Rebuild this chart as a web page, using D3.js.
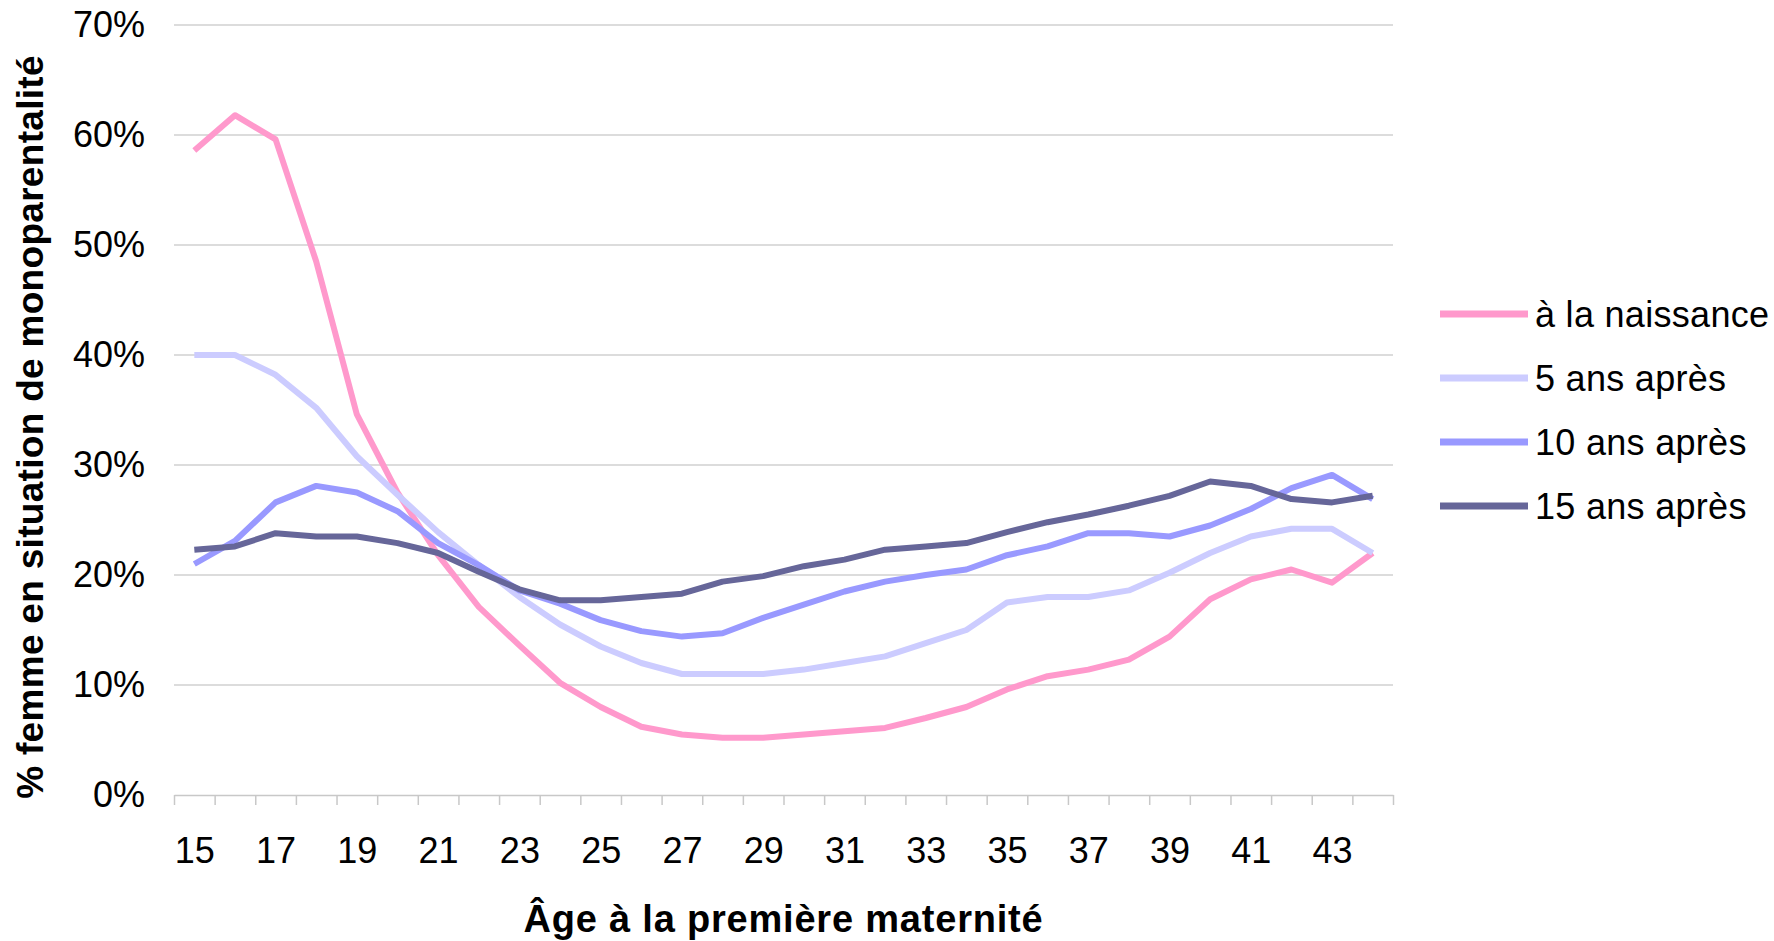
<!DOCTYPE html>
<html>
<head>
<meta charset="utf-8">
<script src="https://cdn.jsdelivr.net/npm/d3@7"></script>
<style>
    body { margin: 0; background: #fff; }
    svg { display: block; font-family: "Liberation Sans", Arial, sans-serif; }
    .grid line { stroke: #d0d0d0; stroke-width: 1.5; }
    .tickAxis line, .tickAxis path { stroke: #c8c8c8; stroke-width: 1.5; }
    .yearLabels text, .pctLabels text { font-size: 36px; fill: #000; }
    .serie { fill: none; stroke-width: 6; stroke-linejoin: round; }
    .legendText { font-size: 36px; fill: #000; }
    .axisTitle { font-size: 38px; font-weight: bold; fill: #000; }
</style>
</head>
<body>
<div id="chart"></div>
<script>

// Age at first maternity
var ages = d3.range(15, 45);

// % of women in single-parent situation, per age
var aLaNaissance = [58.6, 61.8, 59.6, 48.5, 34.6, 27.5, 21.8, 17.1, 13.6, 10.2, 8.0, 6.2, 5.5, 5.2, 5.2,
    5.5, 5.8, 6.1, 7.0, 8.0, 9.6, 10.8, 11.4, 12.3, 14.4, 17.8, 19.6, 20.5, 19.3, 22.0];
var cinqAns = [40.0, 40.0, 38.2, 35.2, 30.8, 27.3, 23.9, 20.9, 18.0, 15.5, 13.5, 12.0, 11.0, 11.0, 11.0,
    11.4, 12.0, 12.6, 13.8, 15.0, 17.5, 18.0, 18.0, 18.6, 20.2, 22.0, 23.5, 24.2, 24.2, 22.0];
var dixAns = [21.0, 23.1, 26.6, 28.1, 27.5, 25.8, 22.9, 20.9, 18.6, 17.4, 15.9, 14.9, 14.4, 14.7, 16.1,
    17.3, 18.5, 19.4, 20.0, 20.5, 21.8, 22.6, 23.8, 23.8, 23.5, 24.5, 26.0, 27.9, 29.1, 26.9];
var quinzeAns = [22.3, 22.6, 23.8, 23.5, 23.5, 22.9, 22.0, 20.3, 18.7, 17.7, 17.7, 18.0, 18.3, 19.4, 19.9,
    20.8, 21.4, 22.3, 22.6, 22.9, 23.9, 24.8, 25.5, 26.3, 27.2, 28.5, 28.1, 26.9, 26.6, 27.2];

var serieNames = ["à la naissance", "5 ans après", "10 ans après", "15 ans après"];
var serieColors = ["#ff99cc", "#ccccff", "#9999ff", "#666699"];
var yTicks = [0, 10, 20, 30, 40, 50, 60, 70];

function MonoChart() {
    var self = this;
    self.series = [aLaNaissance, cinqAns, dixAns, quinzeAns];
    self.init();
}

MonoChart.prototype.init = function () {
    var self = this;
    self.margin = {top: 25, right: 381, bottom: 146, left: 174};
    self.svgWidth = 1774;
    self.svgHeight = 941;
    self.width = self.svgWidth - self.margin.left - self.margin.right;
    self.height = self.svgHeight - self.margin.top - self.margin.bottom;

    self.svg = d3.select("#chart").append("svg")
        .attr("width", self.svgWidth)
        .attr("height", self.svgHeight);
    self.g = self.svg.append("g")
        .attr("transform", "translate(" + self.margin.left + "," + self.margin.top + ")");
};

MonoChart.prototype.update = function () {
    var self = this;
    var g = self.g;

    // categories sit between tick marks, like a spreadsheet chart
    var x = d3.scaleLinear()
        .domain([ages[0] - 0.5, ages[ages.length - 1] + 0.5])
        .range([0, self.width]);
    var y = d3.scaleLinear()
        .domain([0, 70])
        .range([self.height, 0]);

    g.append("g").attr("class", "grid")
        .selectAll("line")
        .data(yTicks.filter(function (d) { return d > 0; }))
        .enter().append("line")
        .attr("x1", 0)
        .attr("x2", self.width)
        .attr("y1", function (d) { return y(d); })
        .attr("y2", function (d) { return y(d); });

    // tick marks on category boundaries
    g.append("g").attr("class", "tickAxis")
        .attr("transform", "translate(0," + self.height + ")")
        .call(d3.axisBottom(x)
            .tickValues(d3.range(ages[0] - 0.5, ages[ages.length - 1] + 1, 1))
            .tickSize(10)
            .tickSizeOuter(0)
            .tickFormat(""));

    var xLabels = g.append("g").attr("class", "yearLabels")
        .attr("transform", "translate(0," + self.height + ")")
        .call(d3.axisBottom(x)
            .tickValues(ages.filter(function (d) { return d % 2 === 1; }))
            .tickSize(0)
            .tickPadding(42)
            .tickFormat(d3.format("d")));
    xLabels.select(".domain").remove();
    xLabels.selectAll("text").attr("font-family", null).attr("font-size", null);

    var yLabels = g.append("g").attr("class", "pctLabels")
        .call(d3.axisLeft(y)
            .tickValues(yTicks)
            .tickSize(0)
            .tickPadding(29)
            .tickFormat(function (d) { return d + "%"; }));
    yLabels.select(".domain").remove();
    yLabels.selectAll("text").attr("font-family", null).attr("font-size", null);

    var line = d3.line()
        .x(function (d, i) { return x(ages[i]); })
        .y(function (d) { return y(d); });

    g.selectAll(".serie")
        .data(self.series)
        .enter().append("path")
        .attr("class", "serie")
        .attr("stroke", function (d, i) { return serieColors[i]; })
        .attr("d", line);

    // legend
    var legend = self.svg.append("g").attr("transform", "translate(1440,314)");
    var item = legend.selectAll("g")
        .data(serieNames)
        .enter().append("g")
        .attr("transform", function (d, i) { return "translate(0," + i * 64 + ")"; });
    item.append("line")
        .attr("x1", 0).attr("x2", 88)
        .attr("stroke", function (d, i) { return serieColors[i]; })
        .attr("stroke-width", 7);
    item.append("text")
        .attr("class", "legendText")
        .attr("x", 95)
        .attr("dy", "0.35em")
        .style("letter-spacing", "0.3px")
        .text(function (d) { return d; });

    // axis titles
    self.svg.append("text")
        .attr("class", "axisTitle")
        .attr("x", self.margin.left + self.width / 2)
        .attr("y", 932)
        .attr("text-anchor", "middle")
        .style("letter-spacing", "0.8px")
        .text("Âge à la première maternité");

    self.svg.append("text")
        .attr("class", "axisTitle")
        .attr("transform", "translate(43,427) rotate(-90)")
        .attr("text-anchor", "middle")
        .style("font-size", "37px")
        .style("letter-spacing", "0.3px")
        .text("% femme en situation de monoparentalité");
};

var chart = new MonoChart();
chart.update();

</script>
</body>
</html>
